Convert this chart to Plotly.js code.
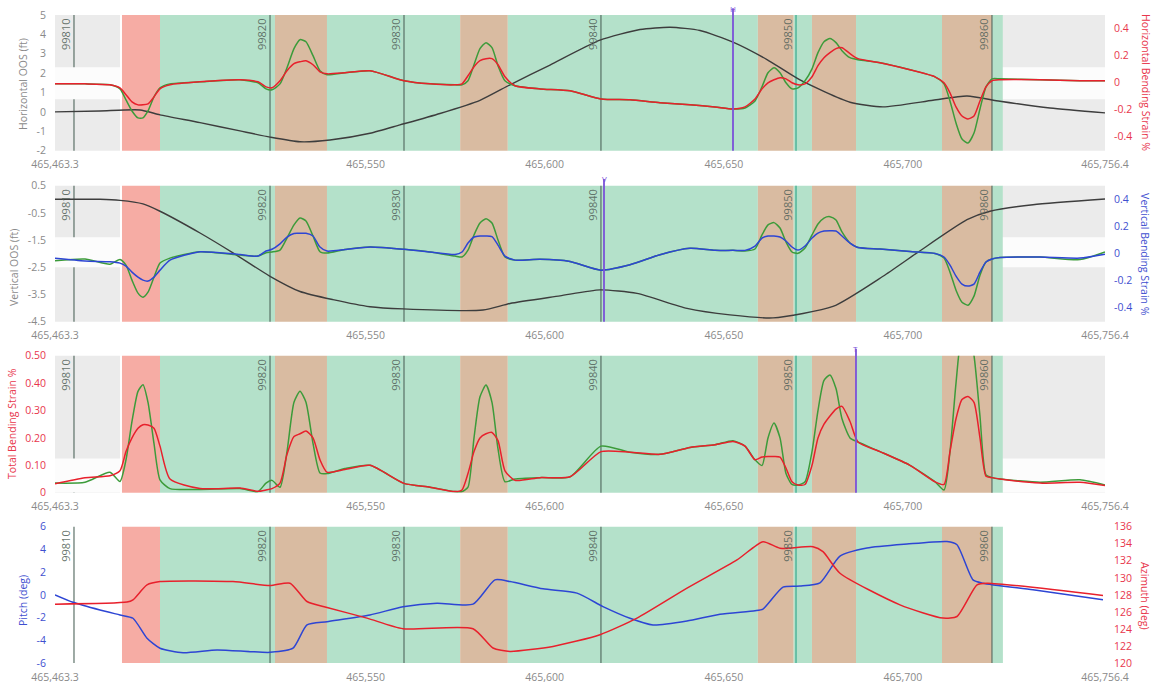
<!DOCTYPE html>
<html><head><meta charset="utf-8">
<script src="https://cdn.plot.ly/plotly-3.0.1.min.js"></script>
<style>html,body{margin:0;padding:0;background:#fff;}#chart{width:1156px;height:687px;}</style>
</head><body><div id="chart"></div>
<script>
// ---------- DATA ----------
const xTickVals = [465463.3, 465550, 465600, 465650, 465700, 465756.4];
const xTickText = ['465,463.3', '465,550', '465,600', '465,650', '465,700', '465,756.4'];

// shared chainage grid for the strain series
const chainage = [465463.30, 465471.67, 465478.65, 465481.44, 465483.12, 465484.79, 465486.47, 465487.86, 465489.26, 465490.93,
  465492.61, 465495.40, 465503.78, 465514.94, 465519.97, 465522.20, 465523.87, 465526.11, 465528.06, 465530.01,
  465531.69, 465533.36, 465535.32, 465537.27, 465539.23, 465544.25, 465551.23, 465560.72, 465567.98, 465574.96,
  465576.91, 465578.58, 465580.26, 465581.93, 465583.61, 465585.28, 465586.96, 465588.91, 465591.70, 465598.68,
  465607.06, 465615.71, 465623.81, 465632.18, 465640.55, 465647.53, 465652.56, 465655.91, 465658.70, 465660.65,
  465662.33, 465664.00, 465665.68, 465667.35, 465669.03, 465670.70, 465672.66, 465674.61, 465676.28, 465677.96,
  465679.63, 465681.31, 465682.98, 465685.22, 465687.45, 465693.59, 465701.96, 465708.94, 465711.46, 465713.13,
  465714.81, 465716.48, 465718.15, 465719.83, 465721.50, 465723.18, 465724.85, 465727.09, 465738.25, 465749.42,
  465756.40];

// Panel 1: horizontal bending strain %
const hStrainRed = [-0.01, -0.01, -0.017, -0.04, -0.09, -0.143, -0.165, -0.165, -0.158, -0.106,
  -0.047, -0.017, 0.005, 0.02, 0.005, -0.032, -0.039, 0.013, 0.087, 0.139,
  0.153, 0.161, 0.131, 0.079, 0.064, 0.072, 0.087, 0.013, -0.01, -0.017,
  -0.01, 0.05, 0.116, 0.161, 0.176, 0.176, 0.131, 0.042, -0.024, -0.047,
  -0.061, -0.121, -0.128, -0.15, -0.165, -0.18, -0.195, -0.18, -0.121, -0.047,
  -0.002, 0.02, 0.035, 0.027, -0.002, -0.017, -0.01, 0.042, 0.124, 0.183,
  0.22, 0.25, 0.257, 0.213, 0.176, 0.146, 0.094, 0.042, -0.002, -0.076,
  -0.18, -0.247, -0.269, -0.247, -0.136, -0.032, 0.013, 0.02, 0.02, 0.013,
  0.013];
const hStrainGreen = [-0.01, -0.01, -0.017, -0.047, -0.128, -0.21, -0.261, -0.261, -0.21, -0.106,
  -0.039, -0.01, 0.005, 0.02, -0.002, -0.047, -0.054, -0.01, 0.109, 0.25,
  0.316, 0.301, 0.198, 0.087, 0.057, 0.072, 0.087, 0.013, -0.01, -0.017,
  -0.017, 0.013, 0.131, 0.25, 0.294, 0.257, 0.124, 0.013, -0.024, -0.047,
  -0.061, -0.121, -0.128, -0.15, -0.165, -0.18, -0.195, -0.188, -0.136, -0.032,
  0.072, 0.109, 0.072, -0.002, -0.047, -0.039, 0.013, 0.101, 0.22, 0.301,
  0.324, 0.294, 0.235, 0.183, 0.168, 0.146, 0.094, 0.042, -0.01, -0.136,
  -0.299, -0.417, -0.447, -0.373, -0.195, -0.032, 0.027, 0.027, 0.02, 0.013,
  0.013];
const hOosChainage = [465463.30, 465475.86, 465487.03, 465492.61, 465503.78, 465514.94, 465523.32, 465531.69, 465540.06, 465551.23,
  465559.60, 465570.77, 465581.93, 465590.31, 465601.47, 465615.43, 465626.60, 465634.97, 465643.35, 465652.56,
  465662.05, 465671.26, 465685.22, 465694.43, 465708.38, 465717.88, 465727.09, 465741.04, 465756.40];
const hOos = [0.0, 0.05, 0.1, -0.15, -0.55, -0.98, -1.3, -1.54, -1.45, -1.1,
  -0.67, -0.08, 0.6, 1.4, 2.42, 3.7, 4.25, 4.37, 4.2, 3.6,
  2.7, 1.65, 0.5, 0.26, 0.6, 0.82, 0.55, 0.2, -0.05];

// Panel 2: vertical bending strain %
const vStrainBlue = [-0.037, -0.057, -0.062, -0.072, -0.094, -0.139, -0.176, -0.198, -0.205, -0.176,
  -0.124, -0.05, 0.012, -0.009, -0.02, 0.017, 0.03, 0.07, 0.12, 0.147,
  0.148, 0.148, 0.128, 0.047, 0.017, 0.028, 0.047, 0.03, 0.01, -0.009,
  0.01, 0.076, 0.121, 0.128, 0.128, 0.124, 0.061, -0.02, -0.05, -0.044,
  -0.06, -0.124, -0.084, -0.01, 0.037, 0.022, 0.022, 0.022, 0.054, 0.113,
  0.128, 0.128, 0.121, 0.091, 0.047, 0.024, 0.054, 0.113, 0.15, 0.165,
  0.167, 0.165, 0.128, 0.076, 0.043, 0.032, 0.013, -0.001, -0.027, -0.087,
  -0.168, -0.227, -0.242, -0.227, -0.139, -0.064, -0.042, -0.031, -0.027, -0.035,
  -0.007];
const vStrainGreen = [-0.055, -0.042, -0.08, -0.045, -0.087, -0.198, -0.294, -0.324, -0.287, -0.176,
  -0.072, -0.035, 0.012, -0.013, -0.02, 0.005, 0.01, 0.024, 0.113, 0.21,
  0.261, 0.239, 0.128, 0.012, 0.002, 0.028, 0.047, 0.03, 0.01, -0.02,
  -0.027, 0.024, 0.136, 0.224, 0.256, 0.224, 0.099, -0.027, -0.05, -0.044,
  -0.06, -0.124, -0.084, -0.01, 0.037, 0.022, 0.022, 0.017, 0.032, 0.136,
  0.21, 0.227, 0.187, 0.084, 0.01, 0.0, 0.039, 0.136, 0.217, 0.261,
  0.271, 0.247, 0.158, 0.076, 0.043, 0.032, 0.013, -0.001, -0.035, -0.139,
  -0.272, -0.361, -0.383, -0.316, -0.161, -0.064, -0.042, -0.031, -0.027, -0.046,
  0.01];
const vOosChainage = [465463.30, 465475.86, 465481.44, 465487.86, 465492.61, 465503.78, 465512.99, 465523.32, 465531.69, 465540.90,
  465551.23, 465560.44, 465582.77, 465590.31, 465604.27, 465615.43, 465625.76, 465639.72, 465651.72, 465663.72,
  465680.47, 465694.43, 465703.92, 465717.88, 465724.30, 465736.30, 465756.40];
const vOos = [0.0, 0.0, -0.04, -0.17, -0.44, -1.24, -1.97, -2.83, -3.39, -3.69,
  -3.95, -4.03, -4.07, -3.83, -3.55, -3.33, -3.46, -4.01, -4.25, -4.36,
  -3.94, -2.83, -1.97, -0.75, -0.44, -0.2, 0.01];

// Panel 3: total bending strain %
const tStrainRed = [0.033, 0.055, 0.062, 0.08, 0.15, 0.2, 0.235, 0.248, 0.247, 0.235,
  0.17, 0.05, 0.015, 0.017, 0.005, 0.01, 0.015, 0.035, 0.14, 0.205,
  0.215, 0.225, 0.2, 0.12, 0.075, 0.085, 0.1, 0.034, 0.02, 0.004,
  0.01, 0.07, 0.15, 0.2, 0.215, 0.22, 0.19, 0.08, 0.045, 0.055,
  0.058, 0.15, 0.148, 0.14, 0.165, 0.175, 0.187, 0.17, 0.12, 0.13,
  0.132, 0.132, 0.13, 0.09, 0.04, 0.028, 0.03, 0.1, 0.2, 0.25,
  0.28, 0.305, 0.315, 0.26, 0.185, 0.15, 0.1, 0.04, 0.03, 0.15,
  0.27, 0.34, 0.351, 0.33, 0.2, 0.06, 0.055, 0.05, 0.035, 0.038,
  0.026];
const tStrainGreen = [0.035, 0.038, 0.075, 0.041, 0.12, 0.26, 0.37, 0.394, 0.33, 0.18,
  0.047, 0.015, 0.012, 0.015, 0.004, 0.035, 0.045, 0.02, 0.15, 0.33,
  0.37, 0.33, 0.18, 0.072, 0.07, 0.088, 0.1, 0.034, 0.02, 0.004,
  0.004, 0.02, 0.2, 0.35, 0.393, 0.33, 0.16, 0.04, 0.05, 0.055,
  0.058, 0.17, 0.148, 0.14, 0.165, 0.175, 0.19, 0.17, 0.12, 0.099,
  0.2, 0.254, 0.2, 0.07, 0.03, 0.028, 0.04, 0.15, 0.3, 0.41,
  0.43, 0.38, 0.27, 0.2, 0.185, 0.15, 0.1, 0.04, 0.01, 0.15,
  0.4, 0.58, 0.6, 0.5, 0.28, 0.065, 0.055, 0.05, 0.038, 0.047,
  0.028];

// Panel 4: pitch and azimuth
const pitchChainage = [465463.30, 465468.32, 465475.86, 465481.44, 465485.07, 465488.98, 465492.61, 465499.03, 465508.52, 465517.73,
  465523.32, 465529.74, 465533.64, 465539.23, 465551.23, 465560.44, 465569.93, 465579.98, 465586.12, 465590.31,
  465599.52, 465609.01, 465616.27, 465623.81, 465630.23, 465639.72, 465648.93, 465658.70, 465660.93, 465666.51,
  465671.26, 465676.84, 465682.42, 465689.96, 465701.13, 465712.29, 465715.08, 465719.55, 465722.34, 465736.30,
  465755.84];
const pitchDeg = [0.0, -0.65, -1.33, -1.77, -2.06, -3.82, -4.7, -5.09, -4.85, -5.0,
  -5.06, -4.7, -2.65, -2.36, -1.77, -1.05, -0.73, -0.82, 1.32, 1.17,
  0.53, 0.15, -1.03, -2.06, -2.65, -2.3, -1.7, -1.4, -1.25, 0.68,
  0.77, 1.06, 3.41, 4.12, 4.47, 4.7, 4.41, 1.32, 1.03, 0.44,
  -0.44];
const azimuthChainage = [465463.30, 465483.40, 465485.07, 465488.98, 465492.61, 465512.99, 465523.32, 465528.90, 465533.64, 465539.23,
  465550.39, 465560.44, 465579.98, 465585.56, 465590.31, 465602.31, 465615.43, 465625.76, 465639.72, 465653.67,
  465660.93, 465665.68, 465674.89, 465677.68, 465682.42, 465699.17, 465711.18, 465715.08, 465720.67, 465723.46,
  465755.84];
const azimuthDeg = [126.91, 127.15, 127.42, 129.17, 129.56, 129.56, 129.09, 129.37, 127.22, 126.52,
  125.27, 124.02, 124.02, 121.76, 121.36, 121.95, 123.32, 125.27, 128.79, 132.1,
  134.24, 133.47, 133.66, 133.07, 130.54, 126.83, 125.27, 125.46, 129.17, 129.37,
  127.92];

// background zones
const zoneStart = [465463.3, 465482.0, 465492.61, 465524.7, 465539.22, 465576.4, 465589.7, 465659.5, 465669.5, 465674.6, 465686.9, 465710.9, 465724.9, 465727.9];
const zoneEnd   = [465481.44, 465492.61, 465524.7, 465539.22, 465576.4, 465589.7, 465659.5, 465669.5, 465674.6, 465686.9, 465710.9, 465724.9, 465727.9, 465756.4];
const zoneKind  = ['gray', 'red', 'green', 'brown', 'green', 'brown', 'green', 'brown', 'green', 'brown', 'green', 'brown', 'green', 'gray'];
// white stripe inside grey zones (panel 1..3, in each panel's left-axis units)
const grayGapLow  = [0.65, -2.5, 0];
const grayGapHigh = [2.3, -1.4, 0.125];

// girth welds
const weldChainage = [465468.60, 465523.32, 465560.72, 465615.70, 465670.15, 465724.85];
const weldLabel = ['99810', '99820', '99830', '99840', '99850', '99860'];

// cursors
const cursorPanel = [1, 2, 3];
const cursorChainage = [465652.56, 465616.55, 465686.89];
const cursorLabel = ['H', 'V', 'T'];

// ---------- STYLE ----------
const C = {
  red: '#e8202c', green: '#3c9b3a', blue: '#2d45d4', black: '#3d3d3d',
  gray: '#8a8a8a', redText: '#e8364c', blueText: '#3f4fd0', purple: '#7b52d8'
};
const zoneColor = {gray: '#ebebeb', red: '#f6aca4', green: '#b4e1ca', brown: '#d9bba1'};
const FONT = 'Open Sans, Liberation Sans, sans-serif';

function line(x, y, xa, ya, color, w) {
  return {x: x, y: y, xaxis: xa, yaxis: ya, type: 'scatter', mode: 'lines',
    line: {color: color, width: w || 1.5, shape: 'spline', smoothing: 0.6},
    hoverinfo: 'skip'};
}

const traces = [
  line(hOosChainage, hOos, 'x', 'y', C.black, 1.4),
  line(chainage, hStrainGreen, 'x', 'y5', C.green),
  line(chainage, hStrainRed, 'x', 'y5', C.red),
  line(vOosChainage, vOos, 'x2', 'y2', C.black, 1.4),
  line(chainage, vStrainGreen, 'x2', 'y6', C.green),
  line(chainage, vStrainBlue, 'x2', 'y6', C.blue),
  line(chainage, tStrainGreen, 'x3', 'y3', C.green),
  line(chainage, tStrainRed, 'x3', 'y3', C.red),
  line(azimuthChainage, azimuthDeg, 'x4', 'y7', C.red),
  line(pitchChainage, pitchDeg, 'x4', 'y4', C.blue)
];

const xRange = [xTickVals[0], xTickVals[xTickVals.length - 1]];
function xAxis(anchor) {
  return {anchor: anchor, domain: [0, 1], range: xRange, tickmode: 'array', tickvals: xTickVals, ticktext: xTickText,
    showgrid: false, zeroline: false, showline: false, ticks: '', ticklabelstandoff: 6, fixedrange: true,
    tickfont: {family: FONT, size: 10.5, color: C.gray}};
}
function yAxis(domain, range, tickvals, ticktext, color, extra) {
  const a = {domain: domain, range: range, tickmode: 'array', tickvals: tickvals, ticktext: ticktext,
    showgrid: false, zeroline: false, showline: false, ticks: '', ticklabelstandoff: 8,
    tickfont: {family: FONT, size: 10.5, color: color}};
  return Object.assign(a, extra || {});
}

const layout = {
  width: 1156, height: 687,
  margin: {l: 55, r: 51, t: 15, b: 24},
  paper_bgcolor: '#ffffff', plot_bgcolor: 'rgba(0,0,0,0)',
  showlegend: false,
  font: {family: FONT, size: 10.5, color: C.gray},
  xaxis: xAxis('y'), xaxis2: xAxis('y2'), xaxis3: xAxis('y3'), xaxis4: xAxis('y4'),
  yaxis: yAxis([0.7906, 1], [-2, 5], [-2, -1, 0, 1, 2, 3, 4, 5], ['-2', '-1', '0', '1', '2', '3', '4', '5'], C.gray, {anchor: 'x'}),
  yaxis2: yAxis([0.5267, 0.7366], [-4.5, 0.5], [-4.5, -3.5, -2.5, -1.5, -0.5, 0.5], ['-4.5', '-3.5', '-2.5', '-1.5', '-0.5', '0.5'], C.gray, {anchor: 'x2'}),
  yaxis3: yAxis([0.2628, 0.4742], [0, 0.5], [0, 0.1, 0.2, 0.3, 0.4, 0.5], ['0', '0.10', '0.20', '0.30', '0.40', '0.50'], C.redText, {anchor: 'x3'}),
  yaxis4: yAxis([0, 0.2103], [-6, 6], [-6, -4, -2, 0, 2, 4, 6], ['-6', '-4', '-2', '0', '2', '4', '6'], C.blueText, {anchor: 'x4'}),
  yaxis5: yAxis(null, [-0.503, 0.498], [-0.4, -0.2, 0, 0.2, 0.4], ['-0.4', '-0.2', '0', '0.2', '0.4'], C.redText, {overlaying: 'y', side: 'right', anchor: 'x'}),
  yaxis6: yAxis(null, [-0.505, 0.5], [-0.4, -0.2, 0, 0.2, 0.4], ['-0.4', '-0.2', '0', '0.2', '0.4'], C.blueText, {overlaying: 'y2', side: 'right', anchor: 'x2'}),
  yaxis7: yAxis(null, [120, 136], [120, 122, 124, 126, 128, 130, 132, 134, 136], ['120', '122', '124', '126', '128', '130', '132', '134', '136'], C.redText, {overlaying: 'y4', side: 'right', anchor: 'x4'}),
  shapes: [], annotations: []
};
['yaxis5', 'yaxis6', 'yaxis7'].forEach(k => { delete layout[k].domain; });

// background zones, stripes, welds
for (let p = 1; p <= 4; p++) {
  const xr = p === 1 ? 'x' : 'x' + p;
  const yr = p === 1 ? 'y' : 'y' + p;
  for (let i = 0; i < zoneStart.length; i++) {
    if (zoneKind[i] === 'gray' && p === 4) continue;
    layout.shapes.push({type: 'rect', xref: xr, yref: yr + ' domain', x0: zoneStart[i], x1: zoneEnd[i], y0: 0, y1: 1,
      fillcolor: zoneColor[zoneKind[i]], line: {width: 0}, layer: 'below'});
    if (zoneKind[i] === 'gray') {
      layout.shapes.push({type: 'rect', xref: xr, yref: yr, x0: zoneStart[i], x1: zoneEnd[i], y0: grayGapLow[p - 1], y1: grayGapHigh[p - 1],
        fillcolor: '#fcfcfc', line: {width: 0}, layer: 'below'});
    }
  }
  for (let w = 0; w < weldChainage.length; w++) {
    const special = weldLabel[w] === '99850';
    layout.shapes.push({type: 'line', xref: xr, yref: yr + ' domain', x0: weldChainage[w], x1: weldChainage[w], y0: 0, y1: 1,
      line: {color: special ? '#56b79d' : '#4f665c', width: special ? 1.6 : 1.1}, layer: 'below'});
    layout.annotations.push({xref: xr, yref: yr + ' domain', x: weldChainage[w], y: 1, xanchor: 'right', yanchor: 'top',
      xshift: 1, yshift: -2, text: weldLabel[w], textangle: -90, showarrow: false,
      font: {family: FONT, size: 11, color: 'rgba(85,100,92,0.9)'}});
  }
}
for (let c = 0; c < cursorPanel.length; c++) {
  const p = cursorPanel[c];
  const xr = p === 1 ? 'x' : 'x' + p;
  const yr = p === 1 ? 'y' : 'y' + p;
  layout.shapes.push({type: 'line', xref: xr, yref: yr + ' domain', x0: cursorChainage[c], x1: cursorChainage[c], y0: 0, y1: 1.05,
    line: {color: C.purple, width: 1.8}, layer: 'above'});
  layout.annotations.push({xref: xr, yref: yr + ' domain', x: cursorChainage[c], y: 1.05, yanchor: 'middle', xanchor: 'center',
    text: cursorLabel[c], showarrow: false, font: {family: FONT, size: 8, color: C.purple}});
}

// axis titles
const titles = [
  {t: 'Horizontal OOS (ft)', x: -0.0305, y: 0.8935, a: -90, c: C.gray},
  {t: 'Horizontal Bending Strain %', x: 1.039, y: 0.895, a: 90, c: C.redText},
  {t: 'Vertical OOS (ft)', x: -0.039, y: 0.6096, a: -90, c: C.gray},
  {t: 'Vertical Bending Strain %', x: 1.038, y: 0.6296, a: 90, c: C.blueText},
  {t: 'Total Bending Strain %', x: -0.041, y: 0.3704, a: -90, c: C.redText},
  {t: 'Pitch (deg)', x: -0.0305, y: 0.0972, a: -90, c: C.blueText},
  {t: 'Azimuth (deg)', x: 1.038, y: 0.1034, a: 90, c: C.redText}
];
titles.forEach(o => layout.annotations.push({xref: 'paper', yref: 'paper', x: o.x, y: o.y, xanchor: 'center', yanchor: 'middle',
  text: o.t, textangle: o.a, showarrow: false, font: {family: FONT, size: 10.5, color: o.c}}));

Plotly.newPlot('chart', traces, layout, {displayModeBar: false, staticPlot: true});
</script></body></html>
